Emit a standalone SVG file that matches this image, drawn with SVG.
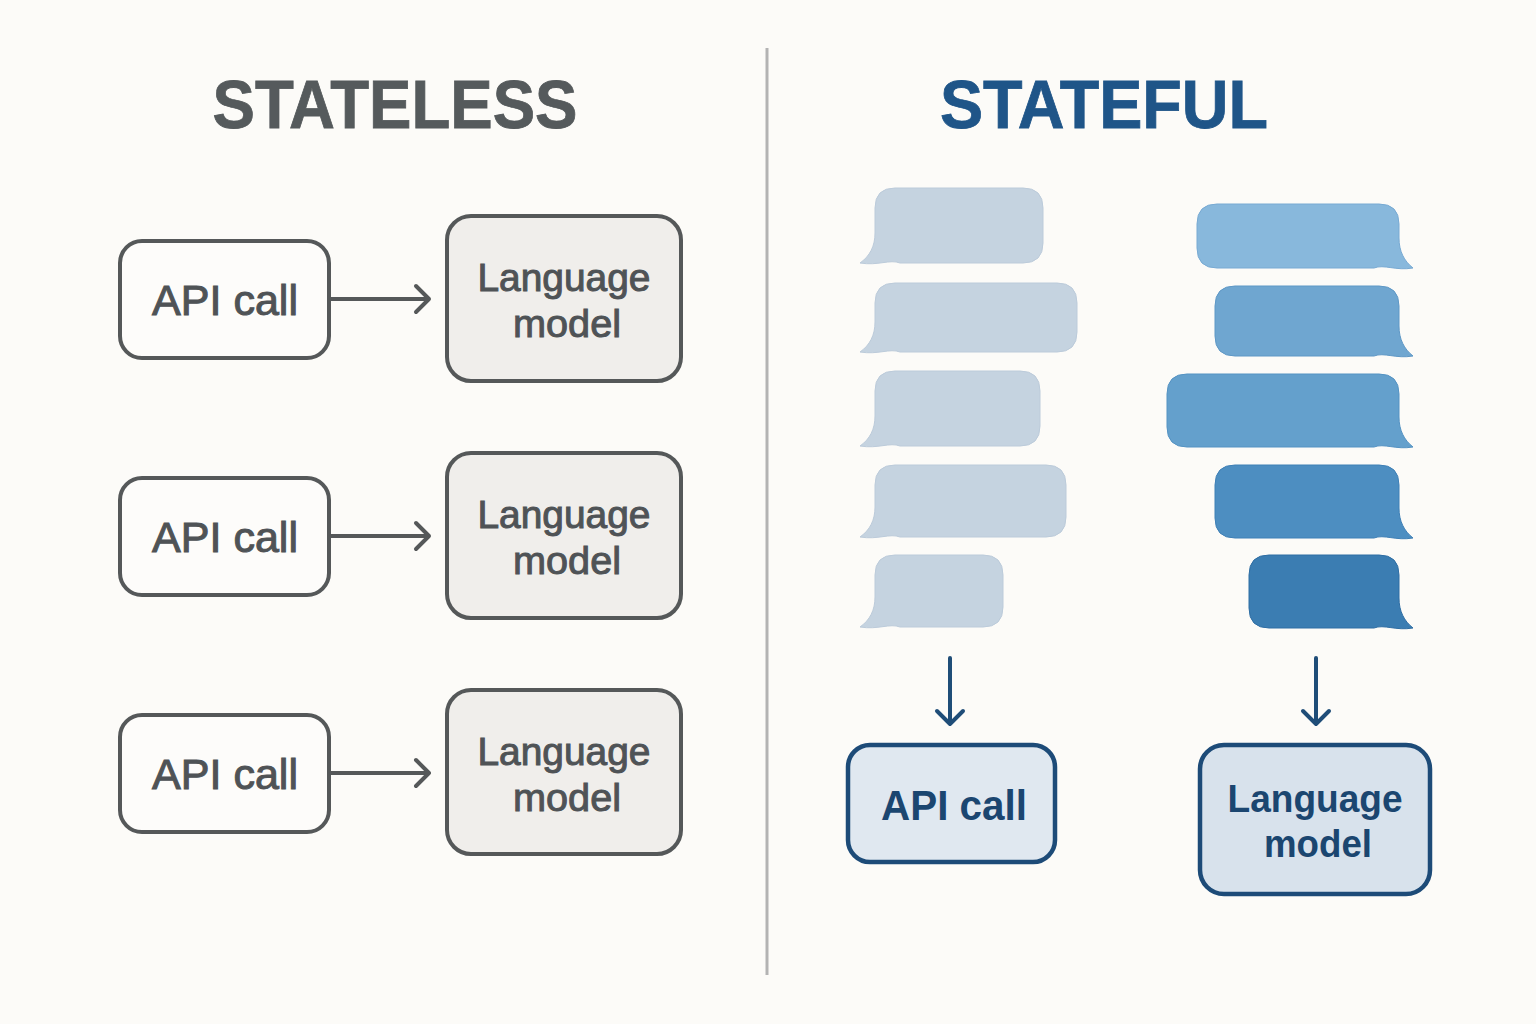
<svg xmlns="http://www.w3.org/2000/svg" width="1536" height="1024" viewBox="0 0 1536 1024">
<style>
.title{font-family:"Liberation Sans",Arial,sans-serif;font-weight:bold;font-size:68px;text-anchor:middle}
.lbl{font-family:"Liberation Sans",Arial,sans-serif;fill:#4f5356;text-anchor:middle;stroke:#4f5356;stroke-width:1}
.blbl{font-family:"Liberation Sans",Arial,sans-serif;font-weight:bold;fill:#1b4670;text-anchor:middle}
.gbox{stroke:#555859;stroke-width:4}
.bbox{stroke:#1d4b78;stroke-width:4.5}
.garrow{fill:none;stroke:#555859;stroke-width:4;stroke-linecap:round;stroke-linejoin:round}
.barrow{fill:none;stroke:#1f4d78;stroke-width:4;stroke-linecap:round;stroke-linejoin:round}
.lb{fill:#c5d3e0;stroke:#bccbda;stroke-width:1}
</style>
<rect width="1536" height="1024" fill="#fcfbf8"/>
<line x1="767" y1="48" x2="767" y2="975" stroke="#b3b3b3" stroke-width="3"/>
<text class="title" x="395" y="128" fill="#555a5c" stroke="#555a5c" stroke-width="0.8" textLength="365" lengthAdjust="spacingAndGlyphs">STATELESS</text>
<text class="title" x="1104" y="128" fill="#1f5588" stroke="#1f5588" stroke-width="0.8" textLength="328" lengthAdjust="spacingAndGlyphs">STATEFUL</text>

<g id="api1"><rect class="gbox" x="120" y="241" width="209" height="117" rx="22" fill="#fdfcfa"/><text class="lbl" x="225" y="315" font-size="42" textLength="146" lengthAdjust="spacingAndGlyphs">API call</text></g>
<g id="lm1"><rect class="gbox" x="447" y="216" width="234" height="165" rx="24" fill="#f0eeeb"/><text class="lbl" x="564" y="291" font-size="39" textLength="173" lengthAdjust="spacingAndGlyphs">Language</text><text class="lbl" x="567" y="337" font-size="39" textLength="108" lengthAdjust="spacingAndGlyphs">model</text></g>
<g id="api2"><rect class="gbox" x="120" y="478" width="209" height="117" rx="22" fill="#fdfcfa"/><text class="lbl" x="225" y="552" font-size="42" textLength="146" lengthAdjust="spacingAndGlyphs">API call</text></g>
<g id="lm2"><rect class="gbox" x="447" y="453" width="234" height="165" rx="24" fill="#f0eeeb"/><text class="lbl" x="564" y="528" font-size="39" textLength="173" lengthAdjust="spacingAndGlyphs">Language</text><text class="lbl" x="567" y="574" font-size="39" textLength="108" lengthAdjust="spacingAndGlyphs">model</text></g>
<g id="api3"><rect class="gbox" x="120" y="715" width="209" height="117" rx="22" fill="#fdfcfa"/><text class="lbl" x="225" y="789" font-size="42" textLength="146" lengthAdjust="spacingAndGlyphs">API call</text></g>
<g id="lm3"><rect class="gbox" x="447" y="690" width="234" height="164" rx="24" fill="#f0eeeb"/><text class="lbl" x="564" y="765" font-size="39" textLength="173" lengthAdjust="spacingAndGlyphs">Language</text><text class="lbl" x="567" y="811" font-size="39" textLength="108" lengthAdjust="spacingAndGlyphs">model</text></g>

<g id="bubbles-left">
<path class="lb" d="M895,188 H1023 Q1043,188 1043,208 V243 Q1043,263 1023,263 H900 C890,259 878,266 860,263 C870,256 875,246 875,233 V208 Q875,188 895,188 Z"/>
<path class="lb" d="M895,283 H1057 Q1077,283 1077,303 V332 Q1077,352 1057,352 H900 C890,348 878,355 860,352 C870,345 875,335 875,322 V303 Q875,283 895,283 Z"/>
<path class="lb" d="M895,371 H1020 Q1040,371 1040,391 V426 Q1040,446 1020,446 H900 C890,442 878,449 860,446 C870,439 875,429 875,416 V391 Q875,371 895,371 Z"/>
<path class="lb" d="M895,465 H1046 Q1066,465 1066,485 V517 Q1066,537 1046,537 H900 C890,533 878,540 860,537 C870,530 875,520 875,507 V485 Q875,465 895,465 Z"/>
<path class="lb" d="M895,555 H983 Q1003,555 1003,575 V607 Q1003,627 983,627 H900 C890,623 878,630 860,627 C870,620 875,610 875,597 V575 Q875,555 895,555 Z"/>
</g>
<g id="bubbles-right">
<path fill="#88b8dc" stroke="#78aad3" d="M1217,204 H1379 Q1399,204 1399,224 V238 C1399,251 1404,261 1413,268 C1396,271 1384,264 1374,268 H1217 Q1197,268 1197,248 V224 Q1197,204 1217,204 Z"/>
<path fill="#6fa6d0" stroke="#5f98c6" d="M1235,286 H1379 Q1399,286 1399,306 V326 C1399,339 1404,349 1413,356 C1396,359 1384,352 1374,356 H1235 Q1215,356 1215,336 V306 Q1215,286 1235,286 Z"/>
<path fill="#64a0cc" stroke="#5593c3" d="M1187,374 H1379 Q1399,374 1399,394 V417 C1399,430 1404,440 1413,447 C1396,450 1384,443 1374,447 H1187 Q1167,447 1167,427 V394 Q1167,374 1187,374 Z"/>
<path fill="#4d8ec1" stroke="#3f80b6" d="M1235,465 H1379 Q1399,465 1399,485 V508 C1399,521 1404,531 1413,538 C1396,541 1384,534 1374,538 H1235 Q1215,538 1215,518 V485 Q1215,465 1235,465 Z"/>
<path fill="#3b7db2" stroke="#2f6ea4" d="M1269,555 H1379 Q1399,555 1399,575 V598 C1399,611 1404,621 1413,628 C1396,631 1384,624 1374,628 H1269 Q1249,628 1249,608 V575 Q1249,555 1269,555 Z"/>
</g>

<g id="api-r"><rect class="bbox" x="848" y="745" width="207" height="117" rx="22" fill="#e0e8f0"/><text class="blbl" x="954" y="820" font-size="42" textLength="146" lengthAdjust="spacingAndGlyphs">API call</text></g>
<g id="lm-r"><rect class="bbox" x="1200" y="745" width="230" height="149" rx="24" fill="#d8e2ec"/><text class="blbl" x="1315" y="812" font-size="38" textLength="175" lengthAdjust="spacingAndGlyphs">Language</text><text class="blbl" x="1318" y="857" font-size="38" textLength="108" lengthAdjust="spacingAndGlyphs">model</text></g>

<g id="connectors">
<path class="garrow" d="M331,299 H429 M416,286 L429,299 L416,312"/>
<path class="garrow" d="M331,536 H429 M416,523 L429,536 L416,549"/>
<path class="garrow" d="M331,773 H429 M416,760 L429,773 L416,786"/>
<path class="barrow" d="M950,658 V724 M937,711 L950,724 L963,711"/>
<path class="barrow" d="M1316,658 V724 M1303,711 L1316,724 L1329,711"/>
</g>
</svg>
